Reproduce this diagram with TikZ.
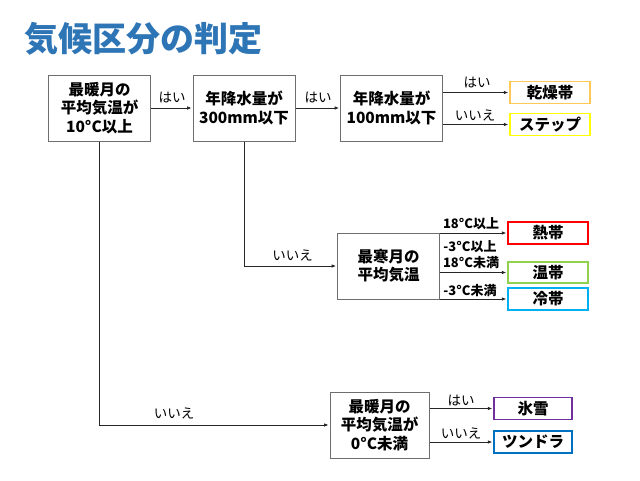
\documentclass[tikz,border=0pt]{standalone}
\usepackage{fontspec}
\setmainfont{Noto Sans CJK JP}
\usetikzlibrary{arrows.meta}
\definecolor{titleblue}{HTML}{2E75B6}
\definecolor{boxgray}{HTML}{6E6E6E}
\definecolor{cKanso}{HTML}{FFC857}
\definecolor{cStep}{HTML}{FFFF00}
\definecolor{cNettai}{HTML}{FF0000}
\definecolor{cOntai}{HTML}{92D050}
\definecolor{cReitai}{HTML}{00B0F0}
\definecolor{cHyosetsu}{HTML}{7030A0}
\definecolor{cTundra}{HTML}{0070C0}
\tikzset{
  decbox/.style={draw=boxgray, line width=1pt, fill=white, minimum width=102pt, minimum height=66pt,
    align=center, font=\fontsize{15.5}{18.5}\selectfont\bfseries, inner sep=0pt},
  resbox/.style={line width=1.6pt, fill=white, minimum width=80pt, minimum height=22pt,
    font=\fontsize{15.5}{17}\selectfont\bfseries, inner sep=0pt},
  conn/.style={draw=black!85, line width=0.9pt, -{Latex[length=4.5pt,width=3.5pt]}, shorten >=0.8pt},
  lab/.style={font=\fontsize{13.5}{14}\selectfont, inner sep=0pt},
  tlab/.style={font=\fontsize{13}{14}\selectfont\bfseries, inner sep=0pt}
}
\begin{document}
\begin{tikzpicture}[x=1pt,y=-1pt]
\useasboundingbox (0,0) rectangle (640,480);
\node[font=\fontsize{34}{36}\selectfont\bfseries, text=titleblue, inner sep=0pt] (title) at (143.5,39) {気候区分の判定};

\node[decbox] (A) at (99.5,108) {最暖月の\\平均気温が\\10°C以上};
\node[decbox] (B) at (244,108) {年降水量が\\300mm以下};
\node[decbox] (C) at (391.5,108) {年降水量が\\100mm以下};
\node[decbox] (D) at (388.5,266) {最寒月の\\平均気温};
\node[decbox, minimum width=99pt] (E) at (379.5,425) {最暖月の\\平均気温が\\0°C未満};

\node[resbox, draw=cKanso] (kanso) at (550,92.5) {乾燥帯};
\node[resbox, draw=cStep] (step) at (550,124.5) {ステップ};
\node[resbox, draw=cNettai] (nettai) at (548,233) {熱帯};
\node[resbox, draw=cOntai, minimum height=21pt] (ontai) at (548,272.5) {温帯};
\node[resbox, draw=cReitai] (reitai) at (548,299) {冷帯};
\node[resbox, draw=cHyosetsu, minimum width=78pt] (hyosetsu) at (533,408.5) {氷雪};
\node[resbox, draw=cTundra, minimum width=78pt] (tundra) at (533,442) {ツンドラ};

\draw[conn] (A.east) -- (B.west);
\draw[conn] (B.east) -- (C.west);
\draw[conn] (C.east |- kanso.west) -- (kanso.west);
\draw[conn] (C.east |- step.west) -- (step.west);
\draw[conn] (B.south) |- (D.west);
\draw[conn] (A.south) |- (E.west);
\draw[conn] (D.east |- nettai.west) -- (nettai.west);
\draw[conn] (D.east |- ontai.west) -- (ontai.west);
\draw[conn] (D.east |- reitai.west) -- (reitai.west);
\draw[conn] (E.east |- hyosetsu.west) -- (hyosetsu.west);
\draw[conn] (E.east |- tundra.west) -- (tundra.west);

\node[lab] (l1) at (172,98) {はい};
\node[lab] (l2) at (318,98) {はい};
\node[lab] (l3) at (477,83) {はい};
\node[lab] (l4) at (475,115) {いいえ};
\node[lab] (l5) at (292.5,255) {いいえ};
\node[lab] (l6) at (174,413) {いいえ};
\node[lab] (l7) at (461,401) {はい};
\node[lab] (l8) at (461,433) {いいえ};
\node[tlab] (t1) at (471,224) {18°C以上};
\node[tlab] (t2) at (470,247) {-3°C以上};
\node[tlab] (t3) at (471,263) {18°C未満};
\node[tlab] (t4) at (470,291) {-3°C未満};
\end{tikzpicture}
\end{document}
